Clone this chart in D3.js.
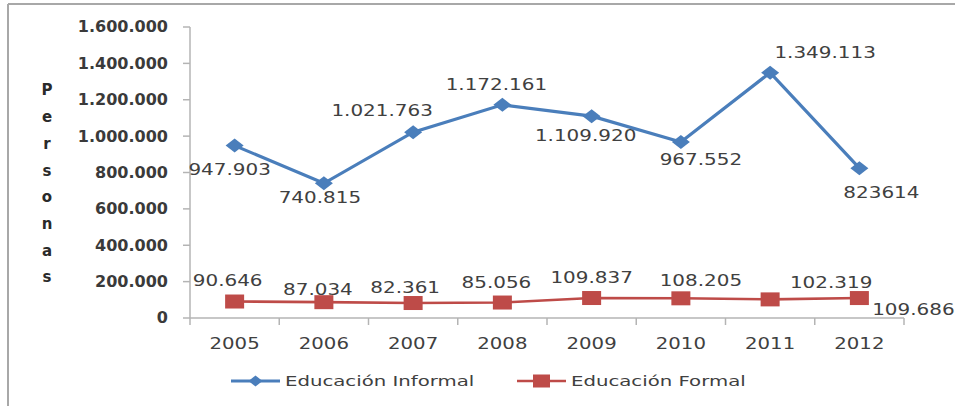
<!DOCTYPE html>
<html>
<head>
<meta charset="utf-8">
<script src="https://cdn.jsdelivr.net/npm/d3@7"></script>
<style>
  body { margin: 0; background: #fff; }
  svg { display: block; font-family: "DejaVu Sans", Verdana, sans-serif; }
</style>
</head>
<body>
<svg width="955" height="406"></svg>
<script>
// datos
const years = ['2005', '2006', '2007', '2008', '2009', '2010', '2011', '2012'];
const informal = [947903, 740815, 1021763, 1172161, 1109920, 967552, 1349113, 823614];
const formal = [90646, 87034, 82361, 85056, 109837, 108205, 102319, 109686];
const informalLabels = ['947.903', '740.815', '1.021.763', '1.172.161', '1.109.920', '967.552', '1.349.113', '823614'];
const formalLabels = ['90.646', '87.034', '82.361', '85.056', '109.837', '108.205', '102.319', '109.686'];
const yTicks = [0, 200000, 400000, 600000, 800000, 1000000, 1200000, 1400000, 1600000];
const seriesNames = ['Educación Informal', 'Educación Formal'];
const axisTitle = 'Personas';

const blue = '#4a7ebb';
const red = '#be4b48';
const textColor = '#404040';

const svg = d3.select('svg');

// marco
svg.append('line').attr('x1', 8).attr('x2', 8).attr('y1', 4).attr('y2', 406)
  .attr('stroke', '#a8a8a8').attr('stroke-width', 2);
svg.append('line').attr('x1', 8).attr('x2', 955).attr('y1', 4).attr('y2', 4)
  .attr('stroke', '#a8a8a8').attr('stroke-width', 2);

const x = d3.scaleBand().domain(years).range([190, 904]);
const y = d3.scaleLinear().domain([0, 1600000]).range([318, 27]);
const cx = d => x(d) + x.bandwidth() / 2;

// texto con estiramiento horizontal
const stretchText = (sel, size, sx, weight) => sel
  .attr('font-size', size)
  .attr('font-weight', weight || 'normal')
  .attr('fill', textColor)
  .attr('text-anchor', 'middle')
  .attr('dy', '0.36em');

const fmtTick = d => d === 0 ? '0' : d3.format(',')(d).replace(/,/g, '.');

// eje y
const yAxis = svg.append('g');
yAxis.append('line').attr('x1', 190).attr('x2', 190).attr('y1', y(1600000)).attr('y2', y(0))
  .attr('stroke', '#b4b4b4').attr('stroke-width', 1.5);
const yt = yAxis.selectAll('.ytick').data(yTicks).enter().append('g')
  .attr('class', 'ytick');
yt.append('line').attr('x1', 183).attr('x2', 190)
  .attr('y1', d => y(d)).attr('y2', d => y(d))
  .attr('stroke', '#b4b4b4').attr('stroke-width', 1.5);
yt.append('text')
  .attr('transform', d => `translate(168,${y(d)}) scale(1.07,1)`)
  .attr('font-size', 15).attr('font-weight', 'bold').attr('fill', '#3a3a3a')
  .attr('text-anchor', 'end').attr('dy', '0.36em')
  .text(fmtTick);

// titulo vertical
svg.append('g').selectAll('text').data(axisTitle.split('')).enter().append('text')
  .attr('x', 47).attr('y', (d, i) => 90 + i * 26.7)
  .attr('font-size', 15).attr('font-weight', 'bold').attr('fill', '#2a2a2a')
  .attr('text-anchor', 'middle').attr('dy', '0.36em')
  .text(d => d);

// eje x
const xAxis = svg.append('g');
xAxis.append('line').attr('x1', 190).attr('x2', 904).attr('y1', 318).attr('y2', 318)
  .attr('stroke', '#b4b4b4').attr('stroke-width', 1.5);
xAxis.selectAll('.xtick').data(years.concat(['end'])).enter().append('line')
  .attr('x1', d => d === 'end' ? 904 : x(d)).attr('x2', d => d === 'end' ? 904 : x(d))
  .attr('y1', 318).attr('y2', 325)
  .attr('stroke', '#b4b4b4').attr('stroke-width', 1.5);
xAxis.selectAll('.xlabel').data(years).enter().append('text')
  .attr('transform', d => `translate(${cx(d)},343) scale(1.23,1)`)
  .call(stretchText, 16)
  .text(d => d);

// series
const line = d3.line().x((d, i) => cx(years[i])).y(d => y(d));

const diamond = (w, h) => `M0,${-h / 2}L${w / 2},0L0,${h / 2}L${-w / 2},0Z`;

svg.append('path').datum(informal)
  .attr('d', line).attr('fill', 'none').attr('stroke', blue).attr('stroke-width', 3.2);
svg.selectAll('.dmark').data(informal).enter().append('path')
  .attr('transform', (d, i) => `translate(${cx(years[i])},${y(d)})`)
  .attr('d', diamond(18, 14)).attr('fill', blue);

svg.append('path').datum(formal)
  .attr('d', line).attr('fill', 'none').attr('stroke', red).attr('stroke-width', 2.6);
svg.selectAll('.smark').data(formal).enter().append('rect')
  .attr('x', (d, i) => cx(years[i]) - 9.5).attr('y', d => y(d) - 7)
  .attr('width', 19).attr('height', 14).attr('fill', red);

// etiquetas de datos
const informalOffsets = [[-5, 24], [-4, 14], [-31, -22], [-6, -20], [-6, 19], [20, 18], [55, -20], [22, 24]];
const formalOffsets = [[-7, -21], [-6, -13], [-8, -15], [-6, -20], [0, -20], [20, -18], [61, -17], [54, 12]];

svg.selectAll('.ilabel').data(informal).enter().append('text')
  .attr('transform', (d, i) => `translate(${cx(years[i]) + informalOffsets[i][0]},${y(d) + informalOffsets[i][1]}) scale(1.33,1)`)
  .call(stretchText, 15)
  .text((d, i) => informalLabels[i]);

svg.selectAll('.flabel').data(formal).enter().append('text')
  .attr('transform', (d, i) => `translate(${cx(years[i]) + formalOffsets[i][0]},${y(d) + formalOffsets[i][1]}) scale(1.33,1)`)
  .call(stretchText, 15)
  .text((d, i) => formalLabels[i]);

// leyenda
const legend = svg.append('g').attr('transform', 'translate(0,381)');
const legendItems = [
  {name: seriesNames[0], color: blue, x: 231, shape: 'diamond'},
  {name: seriesNames[1], color: red, x: 517, shape: 'square'}
];
const li = legend.selectAll('g').data(legendItems).enter().append('g')
  .attr('transform', d => `translate(${d.x},0)`);
li.append('line').attr('x1', 0).attr('x2', 49).attr('y1', 0).attr('y2', 0)
  .attr('stroke', d => d.color).attr('stroke-width', d => d.shape === 'diamond' ? 3.2 : 2.6);
li.filter(d => d.shape === 'diamond').append('path')
  .attr('transform', 'translate(24.5,0)').attr('d', diamond(14, 11)).attr('fill', blue);
li.filter(d => d.shape === 'square').append('rect')
  .attr('x', 24.5 - 8.5).attr('y', -6.5).attr('width', 17).attr('height', 13).attr('fill', red);
li.append('text')
  .attr('transform', 'translate(54,0) scale(1.36,1)')
  .attr('font-size', 14.5).attr('fill', textColor).attr('dy', '0.36em')
  .text(d => d.name);
</script>
</body>
</html>
